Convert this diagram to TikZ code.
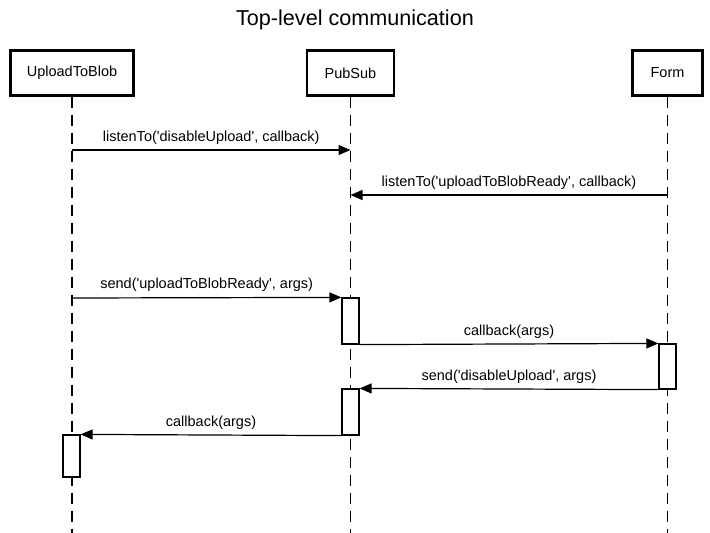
\documentclass[tikz,border=0pt]{standalone}
\usepackage{fontspec}
\setmainfont{Liberation Sans}
\usetikzlibrary{arrows.meta}
\newcommand{\sq}{\textquotesingle}
\begin{document}
\begin{tikzpicture}[x=1pt,y=-1pt,
  actor/.style={draw,line width=2.2pt,fill=white,minimum height=45pt,inner sep=0pt,font=\fontsize{14.5}{17}\selectfont},
  lifeline/.style={line width=1.2pt,dash pattern=on 11.5pt off 6.5pt},
  act/.style={draw,line width=1.2pt,fill=white,minimum width=17pt,inner sep=0pt},
  msg/.style={line width=1.2pt,-{Triangle[length=12pt,width=10pt]}},
  lbl/.style={anchor=base,inner sep=0pt,yshift=9pt,font=\fontsize{14.5}{17}\selectfont}]
\useasboundingbox (0,0) rectangle (710,533);
\node[anchor=base,font=\fontsize{21.6}{26}\selectfont] (title) at (355,25) {Top-level communication};
\node[actor,minimum width=123pt] (u) at (72,73) {UploadToBlob};
\node[actor,minimum width=87pt] (p) at (350.5,73) {PubSub};
\node[actor,minimum width=70pt] (f) at (667.5,73) {Form};
\coordinate (ue) at (72,533);
\coordinate (pe) at (350.5,533);
\coordinate (fe) at (667.5,533);
\draw[lifeline] (u.south) -- (ue);
\draw[lifeline] (p.south) -- (pe);
\draw[lifeline] (f.south) -- (fe);
% activation boxes
\node[act,minimum height=46pt] (a1) at (350.5,321) {};
\node[act,minimum height=45pt] (a2) at (667.5,366.5) {};
\node[act,minimum height=46pt] (a3) at (350.5,412) {};
\node[act,minimum height=42pt] (a4) at (71.5,456) {};
% message anchors on lifelines
\coordinate (m1a) at (72,150);
\coordinate (m1b) at (350.5,150);
\coordinate (m2a) at (667.5,195);
\coordinate (m2b) at (350.5,195);
\coordinate (m3a) at (72,298);
\draw[msg] (m1a) -- node[lbl] (l1) {listenTo(\sq disableUpload\sq, callback)} (m1b);
\draw[msg] (m2a) -- node[lbl] (l2) {listenTo(\sq uploadToBlobReady\sq, callback)} (m2b);
\draw[msg] (m3a) -- node[lbl] (l3) {send(\sq uploadToBlobReady\sq, args)} (a1.north west);
\draw[msg] (a1.south east) -- node[lbl] (l4) {callback(args)} (a2.north west);
\draw[msg] (a2.south west) -- node[lbl] (l5) {send(\sq disableUpload\sq, args)} (a3.north east);
\draw[msg] (a3.south west) -- node[lbl] (l6) {callback(args)} (a4.north east);
\end{tikzpicture}
\end{document}
